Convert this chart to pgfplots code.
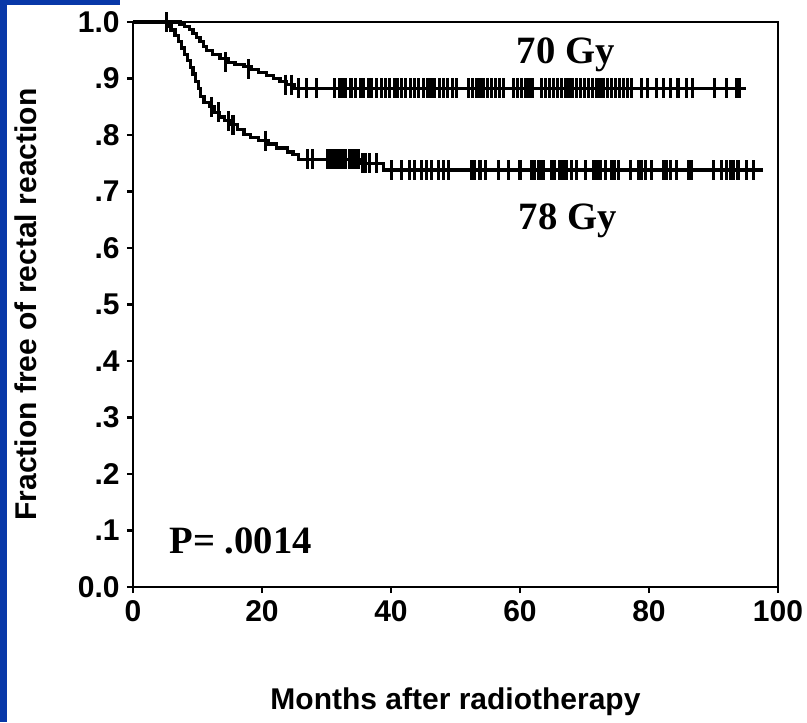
\documentclass[border=0pt]{standalone}
\usepackage{fontspec}
\setmainfont{Liberation Sans}
\newfontfamily\timesfont{Liberation Serif}
\usepackage{pgfplots}
\pgfplotsset{compat=1.18}
\definecolor{slideblue}{RGB}{8,56,168}

% Kaplan-Meier steps
\pgfplotstableread{
t s
0 1.000
7.3 0.996
8.0 0.992
8.8 0.987
9.3 0.980
9.8 0.973
10.4 0.965
10.9 0.957
11.4 0.950
12.3 0.943
13.5 0.936
14.8 0.929
15.8 0.925
17.2 0.921
18.4 0.916
19.5 0.911
20.7 0.906
21.8 0.900
22.8 0.895
23.8 0.889
25.0 0.883
95.1 0.883
}\gyseventy

\pgfplotstableread{
t s
0 1.000
5.3 0.993
5.9 0.986
6.5 0.976
7.0 0.965
7.5 0.954
8.0 0.943
8.5 0.932
8.9 0.920
9.3 0.908
9.7 0.895
10.1 0.882
10.5 0.868
11.0 0.858
11.8 0.850
12.6 0.840
13.4 0.832
14.2 0.825
15.2 0.818
16.2 0.810
17.2 0.801
18.2 0.795
19.5 0.790
21.0 0.784
22.2 0.777
24.0 0.770
24.8 0.765
25.6 0.757
35.5 0.750
38.8 0.738
97.7 0.738
}\gyseventyeight

% censored observations
\pgfplotstableread{
t s
5.2 1.000
14.3 0.929
17.9 0.916
23.6 0.889
24.6 0.889
25.6 0.883
26.9 0.883
28.5 0.883
31.3 0.883
32.0 0.883
32.5 0.883
33.0 0.883
33.8 0.883
34.5 0.883
35.2 0.883
35.8 0.883
36.5 0.883
37.0 0.883
37.8 0.883
38.5 0.883
39.1 0.883
39.8 0.883
40.5 0.883
41.0 0.883
41.6 0.883
42.3 0.883
43.0 0.883
43.6 0.883
44.2 0.883
45.0 0.883
45.6 0.883
46.2 0.883
46.8 0.883
47.5 0.883
48.2 0.883
48.8 0.883
49.5 0.883
50.2 0.883
52.0 0.883
52.6 0.883
53.2 0.883
53.8 0.883
54.4 0.883
55.0 0.883
55.6 0.883
56.2 0.883
56.8 0.883
57.4 0.883
59.0 0.883
59.6 0.883
60.2 0.883
60.8 0.883
61.4 0.883
62.0 0.883
63.4 0.883
64.0 0.883
64.6 0.883
65.2 0.883
65.8 0.883
66.4 0.883
67.0 0.883
67.6 0.883
68.2 0.883
68.8 0.883
69.4 0.883
70.0 0.883
70.6 0.883
71.2 0.883
71.8 0.883
72.4 0.883
73.0 0.883
73.6 0.883
74.2 0.883
74.8 0.883
75.4 0.883
76.0 0.883
76.6 0.883
77.3 0.883
78.9 0.883
79.8 0.883
81.2 0.883
82.2 0.883
83.3 0.883
84.5 0.883
85.8 0.883
86.8 0.883
90.2 0.883
92.0 0.883
93.6 0.883
94.1 0.883
}\censseventy

\pgfplotstableread{
t s
5.2 1.000
12.2 0.850
13.2 0.840
14.8 0.825
15.5 0.818
20.5 0.790
27.1 0.757
27.9 0.757
30.2 0.757
30.7 0.757
31.2 0.757
31.7 0.757
32.2 0.757
32.6 0.757
33.0 0.757
33.5 0.757
34.0 0.757
34.5 0.757
35.0 0.757
35.6 0.750
36.1 0.750
36.7 0.750
37.8 0.750
40.1 0.738
41.7 0.738
42.9 0.738
43.7 0.738
44.8 0.738
45.5 0.738
46.3 0.738
47.3 0.738
48.1 0.738
48.9 0.738
52.5 0.738
53.0 0.738
53.8 0.738
54.6 0.738
56.6 0.738
58.2 0.738
60.0 0.738
61.8 0.738
62.3 0.738
62.8 0.738
63.2 0.738
63.6 0.738
64.9 0.738
65.4 0.738
66.2 0.738
66.7 0.738
67.2 0.738
68.0 0.738
68.8 0.738
70.1 0.738
71.4 0.738
71.9 0.738
72.4 0.738
73.2 0.738
74.2 0.738
74.7 0.738
75.2 0.738
77.1 0.738
78.4 0.738
78.9 0.738
79.4 0.738
80.4 0.738
82.2 0.738
82.7 0.738
83.3 0.738
84.3 0.738
86.1 0.738
86.6 0.738
90.0 0.738
91.3 0.738
92.0 0.738
92.6 0.738
93.1 0.738
93.8 0.738
95.1 0.738
96.2 0.738
}\censseventyeight

\begin{document}
\begin{tikzpicture}
\path[use as bounding box] (-99.75pt,-101.25pt) rectangle (505.5pt,440.25pt);
\fill[slideblue] (-99.75pt,-101.25pt) rectangle (-94.5pt,440.25pt);
\fill[slideblue] (-99.75pt,436.5pt) rectangle (-9.75pt,440.25pt);
\begin{axis}[
    at={(0,0)}, anchor=south west,
    scale only axis,
    width=483.75pt, height=423.75pt,
    xmin=0, xmax=100, ymin=0, ymax=1,
    axis line style={line width=2pt},
    xtick={0,20,40,60,80,100},
    ytick={0,0.1,0.2,0.3,0.4,0.5,0.6,0.7,0.8,0.9,1.0},
    yticklabels={0.0,.1,.2,.3,.4,.5,.6,.7,.8,.9,1.0},
    xtick pos=bottom, ytick pos=left,
    tick align=outside,
    major tick length=4.5pt,
    tick style={line width=1.8pt, black},
    /pgf/number format/assume math mode=true,
    ticklabel style={font=\fontsize{22.5}{22.5}\selectfont\bfseries},
    xticklabel style={yshift=-2pt},
    yticklabel style={xshift=-2pt},
    xlabel={Months after radiotherapy},
    ylabel={Fraction free of rectal reaction},
    label style={font=\fontsize{22.5}{22.5}\selectfont\bfseries},
    xlabel style={at={([yshift=-91.5pt]axis description cs:0.5,0)}, anchor=base},
    ylabel style={at={([xshift=-80.25pt]axis description cs:0,0.5)}, anchor=center},
    clip=false,
]
\addplot[const plot, black, line width=2.4pt] table[x=t, y=s] {\gyseventy};
\addplot[const plot, black, line width=2.4pt] table[x=t, y=s] {\gyseventyeight};
\addplot[only marks, mark=|, mark size=7.5pt, mark options={line width=2.3pt, black}] table[x=t, y=s] {\censseventy};
\addplot[only marks, mark=|, mark size=7.5pt, mark options={line width=2.3pt, black}] table[x=t, y=s] {\censseventyeight};
\node[anchor=base, font=\timesfont\bfseries\fontsize{29}{29}\selectfont] at (axis cs:67.1,0.927) {70 Gy};
\node[anchor=base, font=\timesfont\bfseries\fontsize{29}{29}\selectfont] at (axis cs:67.4,0.632) {78 Gy};
\node[anchor=base, font=\timesfont\bfseries\fontsize{29}{29}\selectfont] at (axis cs:16.7,0.060) {P= .0014};
\end{axis}
\end{tikzpicture}
\end{document}
